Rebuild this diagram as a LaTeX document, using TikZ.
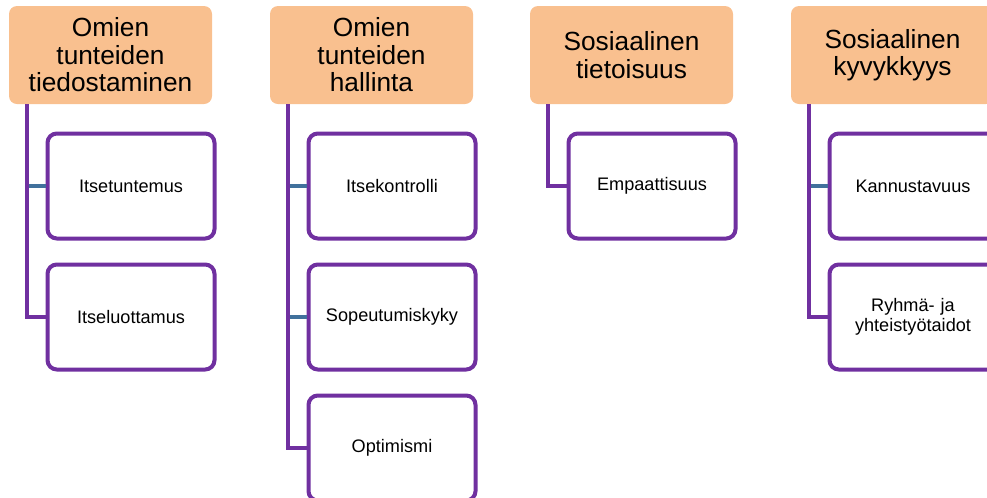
\documentclass[tikz,border=0pt]{standalone}
\usepackage{fontspec}
\setmainfont{Liberation Sans}
\definecolor{headfill}{HTML}{F9C08F}
\definecolor{linepurple}{HTML}{7030A0}
\definecolor{stubblue}{HTML}{41719C}
\usetikzlibrary{positioning}

\begin{document}
\begin{tikzpicture}[
 x=0.75pt,y=-0.75pt,
 head/.style={fill=headfill,rounded corners=6pt,minimum width=152.25pt,minimum height=73.5pt,text width=145pt,align=center,font=\fontsize{19.7}{20.6}\selectfont},
 item/.style={draw=linepurple,line width=3pt,fill=white,rounded corners=7pt,minimum width=125.25pt,minimum height=78.75pt,text width=118pt,align=center,font=\fontsize{13.6}{15}\selectfont},
 tree/.style={draw=linepurple,line width=3pt},
 stub/.style={draw=stubblue,line width=3pt}]
\useasboundingbox (0,0) rectangle (987,497);
\clip (0,0) rectangle (987,497);
\node[head] (h1) at (110.5,55) {Omien\\tunteiden\\tiedostaminen};
\node[head] (h2) at (371.5,55) {Omien\\tunteiden\\hallinta};
\node[head] (h3) at (631.5,55) {Sosiaalinen\\tietoisuus};
\node[head] (h4) at (892.5,55) {Sosiaalinen\\kyvykkyys};
\foreach \h in {1,...,4}
  \coordinate (t\h) at ([xshift=13.5pt]h\h.south west);
\node[item] (i1a) at (131,186) {Itsetuntemus};
\node[item,below=16.5pt of i1a] (i1b) {Itseluottamus};
\node[item] (i2a) at (392,186) {Itsekontrolli};
\node[item,below=16.5pt of i2a] (i2b) {Sopeutumiskyky};
\node[item,below=16.5pt of i2b] (i2c) {Optimismi};
\node[item] (i3a) at (652,186) {Empaattisuus};
\node[item] (i4a) at (913,186) {Kannustavuus};
\node[item,below=16.5pt of i4a] (i4b) {Ryhmä- ja\\yhteistyötaidot};
\foreach \h/\c in {1/i1a,2/i2a,2/i2b,4/i4a}
  \draw[stub] (t\h |- \c.west) -- (\c.west);
\foreach \h/\c in {1/i1b,2/i2c,3/i3a,4/i4b}
  \draw[tree] (t\h) |- (\c.west);
\end{tikzpicture}
\end{document}
